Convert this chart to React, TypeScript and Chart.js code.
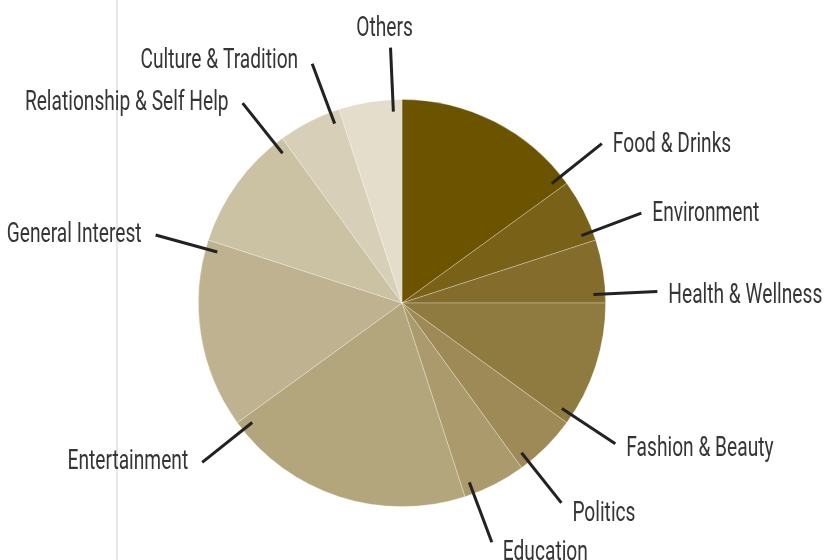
import React, { useEffect, useRef } from "react";
import { Chart, registerables } from "chart.js";

Chart.register(...registerables);

const categories = [
  "Food & Drinks",
  "Environment",
  "Health & Wellness",
  "Fashion & Beauty",
  "Politics",
  "Education",
  "Entertainment",
  "General Interest",
  "Relationship & Self Help",
  "Culture & Tradition",
  "Others",
];
const shares = [15, 5, 5, 10, 5, 5, 20, 15, 10, 5, 5];
const sliceColors = [
  "#6b5300",
  "#7a6118",
  "#836c2c",
  "#8f7b3f",
  "#9d8a56",
  "#aa9a6c",
  "#b4a67c",
  "#bfb290",
  "#cbc2a4",
  "#d7cfb7",
  "#e4ddcb",
];

const labelPlugin = {
  id: "leaderLabels",
  afterDraw(chart: any) {
    const ctx = chart.ctx;
    const meta = chart.getDatasetMeta(0);
    const labels = chart.data.labels as string[];
    ctx.save();
    meta.data.forEach((arc: any, i: number) => {
      const { x, y, endAngle, outerRadius } = arc.getProps(
        ["x", "y", "endAngle", "outerRadius"],
        true
      );
      const a = endAngle - 0.045;
      const c = Math.cos(a);
      const s = Math.sin(a);
      const r1 = outerRadius - 12;
      const r2 = outerRadius + 52;
      const x1 = x + c * r1;
      const y1 = y + s * r1;
      const x2 = x + c * r2;
      const y2 = y + s * r2;
      ctx.beginPath();
      ctx.strokeStyle = "#222222";
      ctx.lineWidth = 3;
      ctx.moveTo(x1, y1);
      ctx.lineTo(x2, y2);
      ctx.stroke();

      ctx.fillStyle = "#353535";
      ctx.font = "400 27px Roboto";
      let tx: number;
      let ty: number;
      let align: CanvasTextAlign;
      let base: CanvasTextBaseline;
      if (Math.abs(c) < 0.1) {
        tx = x2 - 6;
        ty = s < 0 ? y2 - 12 : y2 + 30;
        align = "center";
        base = "alphabetic";
      } else if (c > 0) {
        tx = x2 + 11;
        ty = y2 + (s > 0.7 ? 11 : s > -0.3 ? 5 : 1.5);
        align = "left";
        base = "middle";
      } else {
        tx = x2 - 14;
        ty = y2 + (s < -0.8 ? -2 : 0);
        align = "right";
        base = "middle";
      }
      ctx.save();
      ctx.translate(tx, ty);
      ctx.scale(0.71, 1);
      ctx.textAlign = align;
      ctx.textBaseline = base;
      ctx.fillText(labels[i], 0, 0);
      ctx.restore();
    });
    ctx.restore();
  },
};

export default function App() {
  const ref = useRef<HTMLCanvasElement | null>(null);
  useEffect(() => {
    document.body.style.margin = "0";
    if (!ref.current) return;
    const chart = new Chart(ref.current, {
      type: "pie",
      data: {
        labels: categories,
        datasets: [
          {
            data: shares,
            backgroundColor: sliceColors,
            borderColor: "rgba(255,255,255,0.35)",
            borderWidth: 0.8,
          },
        ],
      },
      options: {
        animation: false,
        responsive: false,
        maintainAspectRatio: false,
        layout: { padding: { left: 198, right: 232, top: 99, bottom: 53 } },
        plugins: {
          legend: { display: false },
          tooltip: { enabled: false },
        },
      },
      plugins: [labelPlugin],
    });
    return () => chart.destroy();
  }, []);
  return (
    <div style={{ position: "relative", width: 838, height: 560, background: "#ffffff", overflow: "hidden" }}>
      <div
        style={{
          position: "absolute",
          left: 116,
          top: 0,
          width: 2,
          height: 560,
          background: "#e8e8e8",
        }}
      />
      <canvas
        ref={ref}
        width={838}
        height={560}
        style={{ position: "absolute", left: 0, top: 0, width: 838, height: 560 }}
      />
    </div>
  );
}
